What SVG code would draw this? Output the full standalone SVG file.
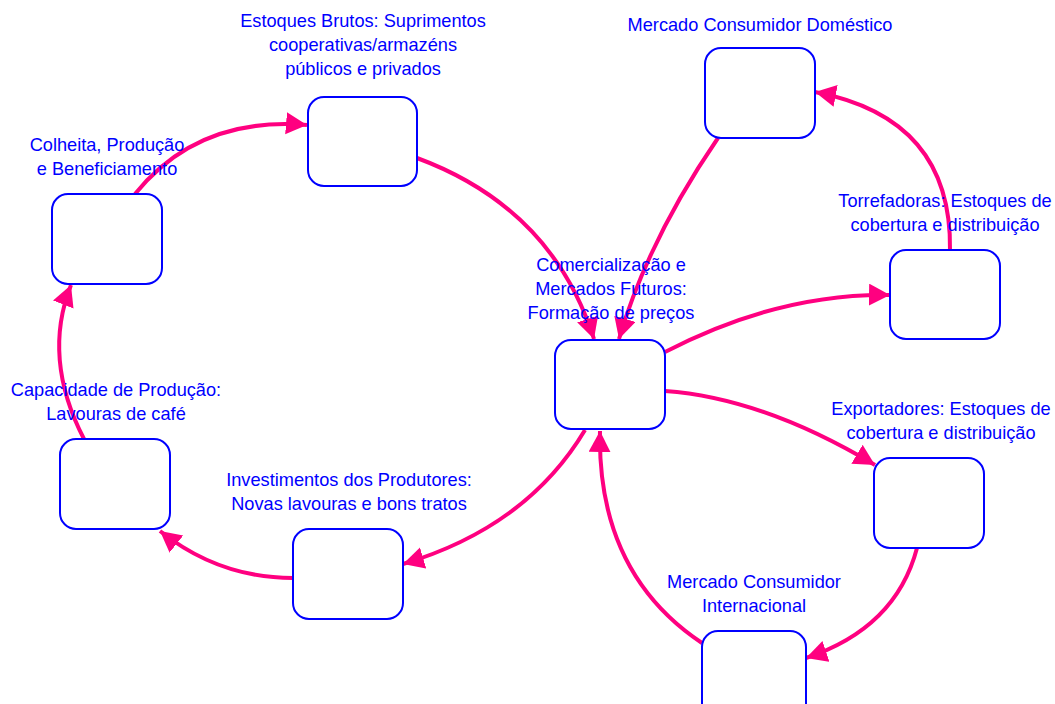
<svg xmlns="http://www.w3.org/2000/svg" width="1055" height="704" viewBox="0 0 1055 704">
<defs>
<style>
.box{fill:#ffffff;stroke:#0000ff;stroke-width:2}
.lbl{font-family:"Liberation Sans",Arial,sans-serif;font-size:18.2px;fill:#0000ff;text-anchor:middle}
.edge{fill:none;stroke:#ff0080;stroke-width:4}
</style>
<marker id="arr" markerUnits="userSpaceOnUse" markerWidth="24" markerHeight="24" refX="21" refY="11" orient="auto">
<path d="M0,0 L21,11 L0,22 z" fill="#ff0080"/>
</marker>
</defs>
<rect width="1055" height="704" fill="#ffffff"/>
<g id="connectors">
<path class="edge" marker-end="url(#arr)" d="M135,194 Q198,116 307,125"/>
<path class="edge" marker-end="url(#arr)" d="M417,158 Q552,208 594,339"/>
<path class="edge" marker-end="url(#arr)" d="M718,138 Q648,240 619,339"/>
<path class="edge" marker-end="url(#arr)" d="M665,352 Q779,293 890,295"/>
<path class="edge" marker-end="url(#arr)" d="M950,250 Q952,118 815,92"/>
<path class="edge" marker-end="url(#arr)" d="M665,391 Q763,398 875,465"/>
<path class="edge" marker-end="url(#arr)" d="M917,548 Q896,628 806,658"/>
<path class="edge" marker-end="url(#arr)" d="M702,643 Q597,573 600,431"/>
<path class="edge" marker-end="url(#arr)" d="M585,430 Q527,527 403,564"/>
<path class="edge" marker-end="url(#arr)" d="M293,578 Q219,578 160,531"/>
<path class="edge" marker-end="url(#arr)" d="M84,439 Q42,358 71,285"/>
</g>
<g id="colheita">
<rect class="box" x="52" y="194" width="110" height="90" rx="16"/>
<text class="lbl" x="107" y="151">Colheita, Produção</text>
<text class="lbl" x="107" y="175">e Beneficiamento</text>
</g>
<g id="estoques-brutos">
<rect class="box" x="308" y="97" width="109" height="89" rx="16"/>
<text class="lbl" x="363" y="27">Estoques Brutos: Suprimentos</text>
<text class="lbl" x="363" y="51">cooperativas/armazéns</text>
<text class="lbl" x="363" y="75">públicos e privados</text>
</g>
<g id="comercializacao">
<rect class="box" x="555" y="340" width="110" height="89" rx="16"/>
<text class="lbl" x="611" y="271">Comercialização e</text>
<text class="lbl" x="611" y="295">Mercados Futuros:</text>
<text class="lbl" x="611" y="319">Formação de preços</text>
</g>
<g id="mercado-domestico">
<rect class="box" x="705" y="48" width="110" height="90" rx="16"/>
<text class="lbl" x="760" y="31">Mercado Consumidor Doméstico</text>
</g>
<g id="torrefadoras">
<rect class="box" x="890" y="250" width="110" height="89" rx="16"/>
<text class="lbl" x="945" y="207">Torrefadoras: Estoques de</text>
<text class="lbl" x="945" y="231">cobertura e distribuição</text>
</g>
<g id="exportadores">
<rect class="box" x="874" y="458" width="110" height="90" rx="16"/>
<text class="lbl" x="941" y="415">Exportadores: Estoques de</text>
<text class="lbl" x="941" y="439">cobertura e distribuição</text>
</g>
<g id="mercado-internacional">
<rect class="box" x="702" y="631" width="104" height="90" rx="16"/>
<text class="lbl" x="754" y="588">Mercado Consumidor</text>
<text class="lbl" x="754" y="612">Internacional</text>
</g>
<g id="capacidade">
<rect class="box" x="60" y="439" width="110" height="90" rx="16"/>
<text class="lbl" x="116" y="396">Capacidade de Produção:</text>
<text class="lbl" x="116" y="420">Lavouras de café</text>
</g>
<g id="investimentos">
<rect class="box" x="293" y="529" width="110" height="90" rx="16"/>
<text class="lbl" x="349" y="486">Investimentos dos Produtores:</text>
<text class="lbl" x="349" y="510">Novas lavouras e bons tratos</text>
</g>
</svg>
